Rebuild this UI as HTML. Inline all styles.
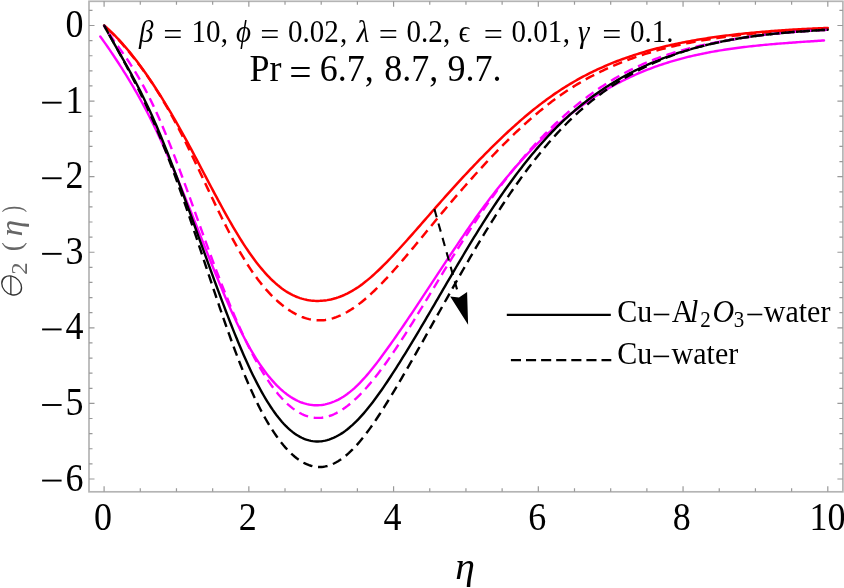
<!DOCTYPE html>
<html><head><meta charset="utf-8"><style>
html,body{margin:0;padding:0;background:#fff;}
body{width:844px;height:588px;overflow:hidden;position:relative;}
svg{position:absolute;left:0;top:0;will-change:transform;}
text{font-family:"Liberation Serif",serif;}
.tl{font-size:36px;fill:#000;}
</style></head><body>
<svg width="844" height="588" viewBox="0 0 844 588">
<rect x="89.0" y="1.3" width="753.90" height="490.50" fill="none" stroke="#b4b4b4" stroke-width="1.7"/>
<path d="M104.10,491.8 v-5.5 M104.10,1.3 v5.5 M140.28,491.8 v-3.5 M140.28,1.3 v3.5 M176.47,491.8 v-3.5 M176.47,1.3 v3.5 M212.66,491.8 v-3.5 M212.66,1.3 v3.5 M248.84,491.8 v-5.5 M248.84,1.3 v5.5 M285.02,491.8 v-3.5 M285.02,1.3 v3.5 M321.21,491.8 v-3.5 M321.21,1.3 v3.5 M357.39,491.8 v-3.5 M357.39,1.3 v3.5 M393.58,491.8 v-5.5 M393.58,1.3 v5.5 M429.76,491.8 v-3.5 M429.76,1.3 v3.5 M465.95,491.8 v-3.5 M465.95,1.3 v3.5 M502.13,491.8 v-3.5 M502.13,1.3 v3.5 M538.32,491.8 v-5.5 M538.32,1.3 v5.5 M574.50,491.8 v-3.5 M574.50,1.3 v3.5 M610.69,491.8 v-3.5 M610.69,1.3 v3.5 M646.88,491.8 v-3.5 M646.88,1.3 v3.5 M683.06,491.8 v-5.5 M683.06,1.3 v5.5 M719.25,491.8 v-3.5 M719.25,1.3 v3.5 M755.43,491.8 v-3.5 M755.43,1.3 v3.5 M791.62,491.8 v-3.5 M791.62,1.3 v3.5 M827.80,491.8 v-5.5 M827.80,1.3 v5.5 M89.0,478.98 h5.5 M842.9,478.98 h-5.5 M89.0,463.86 h3.5 M842.9,463.86 h-3.5 M89.0,448.75 h3.5 M842.9,448.75 h-3.5 M89.0,433.63 h3.5 M842.9,433.63 h-3.5 M89.0,418.52 h3.5 M842.9,418.52 h-3.5 M89.0,403.40 h5.5 M842.9,403.40 h-5.5 M89.0,388.28 h3.5 M842.9,388.28 h-3.5 M89.0,373.17 h3.5 M842.9,373.17 h-3.5 M89.0,358.05 h3.5 M842.9,358.05 h-3.5 M89.0,342.94 h3.5 M842.9,342.94 h-3.5 M89.0,327.82 h5.5 M842.9,327.82 h-5.5 M89.0,312.70 h3.5 M842.9,312.70 h-3.5 M89.0,297.59 h3.5 M842.9,297.59 h-3.5 M89.0,282.47 h3.5 M842.9,282.47 h-3.5 M89.0,267.36 h3.5 M842.9,267.36 h-3.5 M89.0,252.24 h5.5 M842.9,252.24 h-5.5 M89.0,237.12 h3.5 M842.9,237.12 h-3.5 M89.0,222.01 h3.5 M842.9,222.01 h-3.5 M89.0,206.89 h3.5 M842.9,206.89 h-3.5 M89.0,191.78 h3.5 M842.9,191.78 h-3.5 M89.0,176.66 h5.5 M842.9,176.66 h-5.5 M89.0,161.54 h3.5 M842.9,161.54 h-3.5 M89.0,146.43 h3.5 M842.9,146.43 h-3.5 M89.0,131.31 h3.5 M842.9,131.31 h-3.5 M89.0,116.20 h3.5 M842.9,116.20 h-3.5 M89.0,101.08 h5.5 M842.9,101.08 h-5.5 M89.0,85.96 h3.5 M842.9,85.96 h-3.5 M89.0,70.85 h3.5 M842.9,70.85 h-3.5 M89.0,55.73 h3.5 M842.9,55.73 h-3.5 M89.0,40.62 h3.5 M842.9,40.62 h-3.5 M89.0,25.50 h5.5 M842.9,25.50 h-5.5 M89.0,10.38 h3.5 M842.9,10.38 h-3.5" stroke="#999" stroke-width="1.2" fill="none"/>
<g class="tl">
<text transform="translate(83.6,37.10) scale(1,1.1)" text-anchor="end">0</text><text transform="translate(83.6,112.68) scale(1,1.1)" text-anchor="end">1</text><rect x="42.1" y="101.73" width="19.5" height="1.9"/><text transform="translate(83.6,188.26) scale(1,1.1)" text-anchor="end">2</text><rect x="42.1" y="177.31" width="19.5" height="1.9"/><text transform="translate(83.6,263.84) scale(1,1.1)" text-anchor="end">3</text><rect x="42.1" y="252.89" width="19.5" height="1.9"/><text transform="translate(83.6,339.42) scale(1,1.1)" text-anchor="end">4</text><rect x="42.1" y="328.47" width="19.5" height="1.9"/><text transform="translate(83.6,415.00) scale(1,1.1)" text-anchor="end">5</text><rect x="42.1" y="404.05" width="19.5" height="1.9"/><text transform="translate(83.6,490.58) scale(1,1.1)" text-anchor="end">6</text><rect x="42.1" y="479.63" width="19.5" height="1.9"/>
<text transform="translate(102.90,529.6) scale(1,1.1)" text-anchor="middle">0</text><text transform="translate(247.64,529.6) scale(1,1.1)" text-anchor="middle">2</text><text transform="translate(392.38,529.6) scale(1,1.1)" text-anchor="middle">4</text><text transform="translate(537.12,529.6) scale(1,1.1)" text-anchor="middle">6</text><text transform="translate(681.86,529.6) scale(1,1.1)" text-anchor="middle">8</text><text transform="translate(827.60,529.6) scale(1,1.1)" text-anchor="middle">10</text>
</g>
<path d="M104.10,25.46 L105.91,27.04 L107.73,28.67 L109.54,30.35 L111.36,32.07 L113.17,33.85 L114.98,35.66 L116.80,37.53 L118.61,39.44 L120.42,41.40 L122.24,43.40 L124.05,45.46 L125.87,47.56 L127.68,49.70 L129.49,51.89 L131.31,54.13 L133.12,56.41 L134.93,58.74 L136.75,61.11 L138.56,63.52 L140.38,65.98 L142.19,68.47 L144.00,71.01 L145.82,73.58 L147.63,76.20 L149.44,78.85 L151.26,81.54 L153.07,84.27 L154.89,87.03 L156.70,89.83 L158.51,92.66 L160.33,95.53 L162.14,98.43 L163.95,101.37 L165.77,104.34 L167.58,107.34 L169.40,110.38 L171.21,113.45 L173.02,116.54 L174.84,119.68 L176.65,122.84 L178.47,126.03 L180.28,129.25 L182.09,132.51 L183.91,135.79 L185.72,139.10 L187.53,142.44 L189.35,145.80 L191.16,149.18 L192.98,152.58 L194.79,156.00 L196.60,159.42 L198.42,162.86 L200.23,166.31 L202.04,169.76 L203.86,173.21 L205.67,176.66 L207.49,180.11 L209.30,183.55 L211.11,186.98 L212.93,190.41 L214.74,193.81 L216.55,197.20 L218.37,200.57 L220.18,203.92 L222.00,207.25 L223.81,210.55 L225.62,213.82 L227.44,217.05 L229.25,220.25 L231.06,223.42 L232.88,226.54 L234.69,229.63 L236.51,232.66 L238.32,235.65 L240.13,238.59 L241.95,241.48 L243.76,244.31 L245.58,247.09 L247.39,249.80 L249.20,252.45 L251.02,255.04 L252.83,257.56 L254.64,260.02 L256.46,262.40 L258.27,264.72 L260.09,266.98 L261.90,269.16 L263.71,271.27 L265.53,273.32 L267.34,275.29 L269.15,277.19 L270.97,279.02 L272.78,280.77 L274.60,282.45 L276.41,284.06 L278.22,285.59 L280.04,287.05 L281.85,288.43 L283.66,289.74 L285.48,290.96 L287.29,292.11 L289.11,293.18 L290.92,294.18 L292.73,295.10 L294.55,295.95 L296.36,296.73 L298.17,297.44 L299.99,298.08 L301.80,298.65 L303.62,299.15 L305.43,299.59 L307.24,299.96 L309.06,300.27 L310.87,300.51 L312.69,300.70 L314.50,300.82 L316.31,300.89 L318.13,300.90 L319.94,300.85 L321.75,300.75 L323.57,300.60 L325.38,300.39 L327.20,300.12 L329.01,299.80 L330.82,299.43 L332.64,299.00 L334.45,298.51 L336.26,297.98 L338.08,297.38 L339.89,296.73 L341.71,296.03 L343.52,295.27 L345.33,294.46 L347.15,293.59 L348.96,292.66 L350.77,291.68 L352.59,290.64 L354.40,289.55 L356.22,288.40 L358.03,287.20 L359.84,285.94 L361.66,284.63 L363.47,283.26 L365.28,281.85 L367.10,280.39 L368.91,278.88 L370.73,277.33 L372.54,275.74 L374.35,274.11 L376.17,272.45 L377.98,270.74 L379.80,269.01 L381.61,267.24 L383.42,265.44 L385.24,263.62 L387.05,261.77 L388.86,259.89 L390.68,258.00 L392.49,256.08 L394.31,254.15 L396.12,252.20 L397.93,250.24 L399.75,248.26 L401.56,246.27 L403.37,244.26 L405.19,242.25 L407.00,240.22 L408.82,238.19 L410.63,236.15 L412.44,234.10 L414.26,232.04 L416.07,229.98 L417.88,227.91 L419.70,225.84 L421.51,223.76 L423.33,221.68 L425.14,219.60 L426.95,217.53 L428.77,215.45 L430.58,213.37 L432.39,211.30 L434.21,209.23 L436.02,207.16 L437.84,205.10 L439.65,203.05 L441.46,201.00 L443.28,198.96 L445.09,196.92 L446.91,194.89 L448.72,192.87 L450.53,190.85 L452.35,188.84 L454.16,186.84 L455.97,184.85 L457.79,182.87 L459.60,180.89 L461.42,178.92 L463.23,176.96 L465.04,175.01 L466.86,173.07 L468.67,171.13 L470.48,169.21 L472.30,167.29 L474.11,165.39 L475.93,163.49 L477.74,161.61 L479.55,159.73 L481.37,157.87 L483.18,156.01 L484.99,154.17 L486.81,152.34 L488.62,150.52 L490.44,148.71 L492.25,146.91 L494.06,145.12 L495.88,143.35 L497.69,141.59 L499.51,139.84 L501.32,138.10 L503.13,136.38 L504.95,134.67 L506.76,132.97 L508.57,131.29 L510.39,129.62 L512.20,127.97 L514.02,126.33 L515.83,124.70 L517.64,123.09 L519.46,121.49 L521.27,119.92 L523.08,118.35 L524.90,116.80 L526.71,115.27 L528.53,113.75 L530.34,112.26 L532.15,110.77 L533.97,109.31 L535.78,107.86 L537.59,106.43 L539.41,105.02 L541.22,103.62 L543.04,102.25 L544.85,100.89 L546.66,99.55 L548.48,98.23 L550.29,96.93 L552.10,95.65 L553.92,94.38 L555.73,93.14 L557.55,91.92 L559.36,90.71 L561.17,89.53 L562.99,88.36 L564.80,87.21 L566.62,86.09 L568.43,84.97 L570.24,83.88 L572.06,82.81 L573.87,81.75 L575.68,80.71 L577.50,79.68 L579.31,78.68 L581.13,77.69 L582.94,76.71 L584.75,75.75 L586.57,74.81 L588.38,73.89 L590.19,72.98 L592.01,72.08 L593.82,71.20 L595.64,70.34 L597.45,69.49 L599.26,68.65 L601.08,67.83 L602.89,67.02 L604.70,66.23 L606.52,65.45 L608.33,64.68 L610.15,63.93 L611.96,63.19 L613.77,62.46 L615.59,61.74 L617.40,61.04 L619.21,60.35 L621.03,59.67 L622.84,59.01 L624.66,58.35 L626.47,57.71 L628.28,57.07 L630.10,56.45 L631.91,55.84 L633.73,55.24 L635.54,54.65 L637.35,54.07 L639.17,53.50 L640.98,52.94 L642.79,52.39 L644.61,51.85 L646.42,51.32 L648.24,50.79 L650.05,50.28 L651.86,49.78 L653.68,49.28 L655.49,48.80 L657.30,48.32 L659.12,47.85 L660.93,47.40 L662.75,46.95 L664.56,46.50 L666.37,46.07 L668.19,45.64 L670.00,45.23 L671.81,44.82 L673.63,44.41 L675.44,44.02 L677.26,43.63 L679.07,43.25 L680.88,42.88 L682.70,42.52 L684.51,42.16 L686.32,41.81 L688.14,41.46 L689.95,41.13 L691.77,40.80 L693.58,40.47 L695.39,40.15 L697.21,39.84 L699.02,39.53 L700.84,39.24 L702.65,38.94 L704.46,38.65 L706.28,38.37 L708.09,38.09 L709.90,37.82 L711.72,37.55 L713.53,37.29 L715.35,37.04 L717.16,36.79 L718.97,36.54 L720.79,36.30 L722.60,36.06 L724.41,35.83 L726.23,35.60 L728.04,35.37 L729.86,35.15 L731.67,34.94 L733.48,34.72 L735.30,34.51 L737.11,34.31 L738.92,34.11 L740.74,33.91 L742.55,33.72 L744.37,33.53 L746.18,33.34 L747.99,33.16 L749.81,32.98 L751.62,32.81 L753.43,32.64 L755.25,32.47 L757.06,32.30 L758.88,32.14 L760.69,31.98 L762.50,31.83 L764.32,31.67 L766.13,31.52 L767.95,31.38 L769.76,31.23 L771.57,31.09 L773.39,30.96 L775.20,30.82 L777.01,30.69 L778.83,30.56 L780.64,30.43 L782.46,30.31 L784.27,30.19 L786.08,30.07 L787.90,29.95 L789.71,29.84 L791.52,29.73 L793.34,29.62 L795.15,29.51 L796.97,29.41 L798.78,29.30 L800.59,29.20 L802.41,29.10 L804.22,29.01 L806.03,28.91 L807.85,28.82 L809.66,28.73 L811.48,28.64 L813.29,28.55 L815.10,28.46 L816.92,28.38 L818.73,28.30 L820.54,28.22 L822.36,28.14 L824.17,28.06 L825.99,27.98 L827.80,27.91" stroke="#f00" stroke-width="2.5" fill="none" stroke-linecap="round"/>
<path d="M104.10,25.45 L105.91,27.11 L107.73,28.81 L109.54,30.56 L111.36,32.35 L113.17,34.19 L114.98,36.07 L116.80,37.99 L118.61,39.95 L120.42,41.95 L122.24,43.99 L124.05,46.06 L125.87,48.17 L127.68,50.31 L129.49,52.48 L131.31,54.69 L133.12,56.94 L134.93,59.22 L136.75,61.54 L138.56,63.91 L140.38,66.32 L142.19,68.77 L144.00,71.26 L145.82,73.80 L147.63,76.39 L149.44,79.03 L151.26,81.71 L153.07,84.45 L154.89,87.24 L156.70,90.09 L158.51,92.98 L160.33,95.93 L162.14,98.94 L163.95,101.99 L165.77,105.10 L167.58,108.25 L169.40,111.46 L171.21,114.72 L173.02,118.02 L174.84,121.38 L176.65,124.78 L178.47,128.23 L180.28,131.73 L182.09,135.27 L183.91,138.86 L185.72,142.49 L187.53,146.17 L189.35,149.88 L191.16,153.63 L192.98,157.40 L194.79,161.20 L196.60,165.02 L198.42,168.85 L200.23,172.69 L202.04,176.55 L203.86,180.40 L205.67,184.25 L207.49,188.10 L209.30,191.94 L211.11,195.76 L212.93,199.57 L214.74,203.35 L216.55,207.11 L218.37,210.84 L220.18,214.54 L222.00,218.21 L223.81,221.83 L225.62,225.42 L227.44,228.97 L229.25,232.47 L231.06,235.92 L232.88,239.32 L234.69,242.67 L236.51,245.96 L238.32,249.19 L240.13,252.35 L241.95,255.45 L243.76,258.48 L245.58,261.44 L247.39,264.33 L249.20,267.14 L251.02,269.86 L252.83,272.51 L254.64,275.08 L256.46,277.57 L258.27,279.99 L260.09,282.33 L261.90,284.60 L263.71,286.79 L265.53,288.90 L267.34,290.95 L269.15,292.92 L270.97,294.82 L272.78,296.65 L274.60,298.41 L276.41,300.11 L278.22,301.73 L280.04,303.29 L281.85,304.78 L283.66,306.20 L285.48,307.56 L287.29,308.86 L289.11,310.09 L290.92,311.25 L292.73,312.35 L294.55,313.38 L296.36,314.34 L298.17,315.24 L299.99,316.06 L301.80,316.82 L303.62,317.50 L305.43,318.11 L307.24,318.65 L309.06,319.12 L310.87,319.52 L312.69,319.84 L314.50,320.08 L316.31,320.26 L318.13,320.35 L319.94,320.37 L321.75,320.31 L323.57,320.17 L325.38,319.96 L327.20,319.67 L329.01,319.31 L330.82,318.88 L332.64,318.37 L334.45,317.80 L336.26,317.16 L338.08,316.46 L339.89,315.69 L341.71,314.86 L343.52,313.96 L345.33,313.01 L347.15,311.99 L348.96,310.92 L350.77,309.80 L352.59,308.61 L354.40,307.38 L356.22,306.09 L358.03,304.76 L359.84,303.37 L361.66,301.94 L363.47,300.46 L365.28,298.94 L367.10,297.38 L368.91,295.77 L370.73,294.12 L372.54,292.44 L374.35,290.72 L376.17,288.96 L377.98,287.17 L379.80,285.35 L381.61,283.50 L383.42,281.61 L385.24,279.70 L387.05,277.77 L388.86,275.80 L390.68,273.82 L392.49,271.81 L394.31,269.78 L396.12,267.74 L397.93,265.67 L399.75,263.59 L401.56,261.49 L403.37,259.38 L405.19,257.25 L407.00,255.11 L408.82,252.96 L410.63,250.80 L412.44,248.63 L414.26,246.45 L416.07,244.27 L417.88,242.08 L419.70,239.88 L421.51,237.68 L423.33,235.48 L425.14,233.27 L426.95,231.07 L428.77,228.86 L430.58,226.66 L432.39,224.46 L434.21,222.26 L436.02,220.07 L437.84,217.88 L439.65,215.70 L441.46,213.53 L443.28,211.36 L445.09,209.20 L446.91,207.05 L448.72,204.91 L450.53,202.77 L452.35,200.64 L454.16,198.52 L455.97,196.41 L457.79,194.31 L459.60,192.21 L461.42,190.13 L463.23,188.05 L465.04,185.98 L466.86,183.92 L468.67,181.87 L470.48,179.83 L472.30,177.80 L474.11,175.78 L475.93,173.76 L477.74,171.76 L479.55,169.77 L481.37,167.79 L483.18,165.82 L484.99,163.87 L486.81,161.92 L488.62,159.98 L490.44,158.06 L492.25,156.15 L494.06,154.25 L495.88,152.36 L497.69,150.48 L499.51,148.62 L501.32,146.77 L503.13,144.93 L504.95,143.11 L506.76,141.30 L508.57,139.51 L510.39,137.73 L512.20,135.96 L514.02,134.21 L515.83,132.47 L517.64,130.75 L519.46,129.05 L521.27,127.36 L523.08,125.69 L524.90,124.03 L526.71,122.39 L528.53,120.77 L530.34,119.17 L532.15,117.58 L533.97,116.01 L535.78,114.46 L537.59,112.93 L539.41,111.41 L541.22,109.92 L543.04,108.44 L544.85,106.98 L546.66,105.55 L548.48,104.13 L550.29,102.73 L552.10,101.36 L553.92,100.00 L555.73,98.67 L557.55,97.35 L559.36,96.06 L561.17,94.78 L562.99,93.53 L564.80,92.29 L566.62,91.08 L568.43,89.88 L570.24,88.71 L572.06,87.55 L573.87,86.41 L575.68,85.29 L577.50,84.18 L579.31,83.10 L581.13,82.03 L582.94,80.98 L584.75,79.95 L586.57,78.93 L588.38,77.93 L590.19,76.95 L592.01,75.99 L593.82,75.04 L595.64,74.10 L597.45,73.18 L599.26,72.28 L601.08,71.40 L602.89,70.52 L604.70,69.67 L606.52,68.82 L608.33,68.00 L610.15,67.18 L611.96,66.38 L613.77,65.60 L615.59,64.83 L617.40,64.07 L619.21,63.32 L621.03,62.59 L622.84,61.87 L624.66,61.16 L626.47,60.47 L628.28,59.79 L630.10,59.12 L631.91,58.46 L633.73,57.81 L635.54,57.17 L637.35,56.55 L639.17,55.93 L640.98,55.33 L642.79,54.74 L644.61,54.16 L646.42,53.59 L648.24,53.03 L650.05,52.48 L651.86,51.94 L653.68,51.41 L655.49,50.88 L657.30,50.37 L659.12,49.87 L660.93,49.38 L662.75,48.90 L664.56,48.42 L666.37,47.96 L668.19,47.50 L670.00,47.06 L671.81,46.62 L673.63,46.19 L675.44,45.77 L677.26,45.35 L679.07,44.95 L680.88,44.55 L682.70,44.16 L684.51,43.78 L686.32,43.40 L688.14,43.04 L689.95,42.68 L691.77,42.32 L693.58,41.98 L695.39,41.64 L697.21,41.30 L699.02,40.98 L700.84,40.66 L702.65,40.34 L704.46,40.04 L706.28,39.74 L708.09,39.44 L709.90,39.15 L711.72,38.87 L713.53,38.59 L715.35,38.31 L717.16,38.04 L718.97,37.78 L720.79,37.52 L722.60,37.27 L724.41,37.02 L726.23,36.77 L728.04,36.53 L729.86,36.30 L731.67,36.06 L733.48,35.84 L735.30,35.61 L737.11,35.39 L738.92,35.18 L740.74,34.96 L742.55,34.76 L744.37,34.55 L746.18,34.35 L747.99,34.16 L749.81,33.96 L751.62,33.77 L753.43,33.59 L755.25,33.40 L757.06,33.23 L758.88,33.05 L760.69,32.88 L762.50,32.71 L764.32,32.54 L766.13,32.38 L767.95,32.22 L769.76,32.07 L771.57,31.91 L773.39,31.76 L775.20,31.61 L777.01,31.47 L778.83,31.33 L780.64,31.19 L782.46,31.05 L784.27,30.92 L786.08,30.79 L787.90,30.66 L789.71,30.53 L791.52,30.41 L793.34,30.29 L795.15,30.17 L796.97,30.05 L798.78,29.94 L800.59,29.83 L802.41,29.72 L804.22,29.61 L806.03,29.50 L807.85,29.40 L809.66,29.30 L811.48,29.20 L813.29,29.10 L815.10,29.00 L816.92,28.91 L818.73,28.81 L820.54,28.72 L822.36,28.63 L824.17,28.54 L825.99,28.45 L827.80,28.37" stroke="#f00" stroke-width="2.5" fill="none" stroke-dasharray="9.6 5.7" stroke-dashoffset="10.40"/>
<path d="M100.30,36.45 L102.11,39.00 L103.93,41.57 L105.74,44.16 L107.56,46.77 L109.37,49.41 L111.18,52.08 L113.00,54.77 L114.81,57.50 L116.62,60.25 L118.44,63.03 L120.25,65.83 L122.07,68.67 L123.88,71.55 L125.69,74.45 L127.51,77.39 L129.32,80.37 L131.13,83.39 L132.95,86.45 L134.76,89.56 L136.58,92.71 L138.39,95.91 L140.20,99.16 L142.02,102.47 L143.83,105.83 L145.64,109.25 L147.46,112.72 L149.27,116.26 L151.09,119.87 L152.90,123.53 L154.71,127.27 L156.53,131.06 L158.34,134.91 L160.15,138.82 L161.97,142.79 L163.78,146.81 L165.60,150.88 L167.41,155.00 L169.22,159.16 L171.04,163.37 L172.85,167.63 L174.67,171.92 L176.48,176.25 L178.29,180.62 L180.11,185.02 L181.92,189.46 L183.73,193.92 L185.55,198.41 L187.36,202.92 L189.18,207.45 L190.99,212.00 L192.80,216.56 L194.62,221.13 L196.43,225.71 L198.24,230.30 L200.06,234.88 L201.87,239.47 L203.69,244.05 L205.50,248.62 L207.31,253.18 L209.13,257.73 L210.94,262.26 L212.75,266.78 L214.57,271.26 L216.38,275.72 L218.20,280.15 L220.01,284.54 L221.82,288.88 L223.64,293.19 L225.45,297.45 L227.26,301.65 L229.08,305.80 L230.89,309.89 L232.71,313.91 L234.52,317.87 L236.33,321.76 L238.15,325.57 L239.96,329.30 L241.78,332.95 L243.59,336.51 L245.40,339.98 L247.22,343.35 L249.03,346.63 L250.84,349.82 L252.66,352.91 L254.47,355.92 L256.29,358.83 L258.10,361.64 L259.91,364.37 L261.73,367.00 L263.54,369.54 L265.35,371.99 L267.17,374.36 L268.98,376.63 L270.80,378.81 L272.61,380.90 L274.42,382.90 L276.24,384.82 L278.05,386.64 L279.86,388.38 L281.68,390.03 L283.49,391.59 L285.31,393.07 L287.12,394.45 L288.93,395.76 L290.75,396.97 L292.56,398.11 L294.37,399.15 L296.19,400.11 L298.00,400.99 L299.82,401.79 L301.63,402.50 L303.44,403.13 L305.26,403.67 L307.07,404.14 L308.89,404.52 L310.70,404.82 L312.51,405.04 L314.33,405.19 L316.14,405.25 L317.95,405.23 L319.77,405.13 L321.58,404.95 L323.40,404.70 L325.21,404.36 L327.02,403.95 L328.84,403.46 L330.65,402.89 L332.46,402.23 L334.28,401.51 L336.09,400.70 L337.91,399.81 L339.72,398.84 L341.53,397.80 L343.35,396.67 L345.16,395.47 L346.97,394.19 L348.79,392.83 L350.60,391.39 L352.42,389.87 L354.23,388.28 L356.04,386.60 L357.86,384.85 L359.67,383.03 L361.48,381.15 L363.30,379.19 L365.11,377.18 L366.93,375.10 L368.74,372.98 L370.55,370.79 L372.37,368.56 L374.18,366.29 L376.00,363.97 L377.81,361.61 L379.62,359.21 L381.44,356.78 L383.25,354.32 L385.06,351.83 L386.88,349.31 L388.69,346.78 L390.51,344.23 L392.32,341.66 L394.13,339.08 L395.95,336.48 L397.76,333.87 L399.57,331.24 L401.39,328.61 L403.20,325.96 L405.02,323.30 L406.83,320.63 L408.64,317.94 L410.46,315.25 L412.27,312.55 L414.08,309.84 L415.90,307.13 L417.71,304.41 L419.53,301.68 L421.34,298.94 L423.15,296.20 L424.97,293.46 L426.78,290.71 L428.59,287.96 L430.41,285.20 L432.22,282.45 L434.04,279.69 L435.85,276.93 L437.66,274.18 L439.48,271.42 L441.29,268.67 L443.11,265.91 L444.92,263.17 L446.73,260.42 L448.55,257.68 L450.36,254.95 L452.17,252.23 L453.99,249.51 L455.80,246.80 L457.62,244.10 L459.43,241.41 L461.24,238.74 L463.06,236.07 L464.87,233.42 L466.68,230.78 L468.50,228.15 L470.31,225.54 L472.13,222.95 L473.94,220.37 L475.75,217.81 L477.57,215.27 L479.38,212.75 L481.19,210.25 L483.01,207.77 L484.82,205.32 L486.64,202.88 L488.45,200.47 L490.26,198.08 L492.08,195.71 L493.89,193.37 L495.71,191.04 L497.52,188.74 L499.33,186.46 L501.15,184.20 L502.96,181.97 L504.77,179.76 L506.59,177.56 L508.40,175.40 L510.22,173.25 L512.03,171.12 L513.84,169.02 L515.66,166.94 L517.47,164.88 L519.28,162.84 L521.10,160.83 L522.91,158.83 L524.73,156.86 L526.54,154.91 L528.35,152.98 L530.17,151.07 L531.98,149.19 L533.79,147.33 L535.61,145.48 L537.42,143.66 L539.24,141.86 L541.05,140.09 L542.86,138.33 L544.68,136.60 L546.49,134.88 L548.30,133.19 L550.12,131.52 L551.93,129.87 L553.75,128.24 L555.56,126.64 L557.37,125.05 L559.19,123.48 L561.00,121.94 L562.82,120.42 L564.63,118.91 L566.44,117.43 L568.26,115.96 L570.07,114.52 L571.88,113.10 L573.70,111.69 L575.51,110.31 L577.33,108.94 L579.14,107.60 L580.95,106.27 L582.77,104.96 L584.58,103.67 L586.39,102.40 L588.21,101.15 L590.02,99.92 L591.84,98.71 L593.65,97.51 L595.46,96.33 L597.28,95.17 L599.09,94.03 L600.90,92.91 L602.72,91.80 L604.53,90.71 L606.35,89.64 L608.16,88.58 L609.97,87.55 L611.79,86.52 L613.60,85.52 L615.41,84.53 L617.23,83.56 L619.04,82.61 L620.86,81.67 L622.67,80.75 L624.48,79.84 L626.30,78.95 L628.11,78.08 L629.93,77.22 L631.74,76.38 L633.55,75.55 L635.37,74.74 L637.18,73.94 L638.99,73.15 L640.81,72.39 L642.62,71.63 L644.44,70.89 L646.25,70.17 L648.06,69.45 L649.88,68.76 L651.69,68.07 L653.50,67.40 L655.32,66.74 L657.13,66.10 L658.95,65.47 L660.76,64.85 L662.57,64.24 L664.39,63.64 L666.20,63.06 L668.01,62.49 L669.83,61.93 L671.64,61.39 L673.46,60.85 L675.27,60.33 L677.08,59.81 L678.90,59.31 L680.71,58.82 L682.52,58.34 L684.34,57.87 L686.15,57.41 L687.97,56.96 L689.78,56.52 L691.59,56.09 L693.41,55.67 L695.22,55.25 L697.04,54.85 L698.85,54.46 L700.66,54.07 L702.48,53.70 L704.29,53.33 L706.10,52.97 L707.92,52.62 L709.73,52.28 L711.55,51.94 L713.36,51.62 L715.17,51.30 L716.99,50.98 L718.80,50.68 L720.61,50.38 L722.43,50.09 L724.24,49.80 L726.06,49.52 L727.87,49.25 L729.68,48.98 L731.50,48.72 L733.31,48.47 L735.12,48.22 L736.94,47.98 L738.75,47.74 L740.57,47.51 L742.38,47.28 L744.19,47.06 L746.01,46.85 L747.82,46.63 L749.63,46.43 L751.45,46.23 L753.26,46.03 L755.08,45.84 L756.89,45.65 L758.70,45.46 L760.52,45.28 L762.33,45.10 L764.15,44.93 L765.96,44.76 L767.77,44.60 L769.59,44.43 L771.40,44.27 L773.21,44.12 L775.03,43.96 L776.84,43.81 L778.66,43.66 L780.47,43.52 L782.28,43.37 L784.10,43.23 L785.91,43.09 L787.72,42.96 L789.54,42.82 L791.35,42.69 L793.17,42.56 L794.98,42.43 L796.79,42.30 L798.61,42.17 L800.42,42.05 L802.23,41.92 L804.05,41.80 L805.86,41.67 L807.68,41.55 L809.49,41.43 L811.30,41.30 L813.12,41.18 L814.93,41.06 L816.74,40.94 L818.56,40.82 L820.37,40.69 L822.19,40.57 L824.00,40.45" stroke="#f0f" stroke-width="2.4" fill="none" stroke-linecap="round"/>
<path d="M104.10,25.45 L105.91,28.83 L107.73,32.15 L109.54,35.43 L111.36,38.68 L113.17,41.89 L114.98,45.09 L116.80,48.27 L118.61,51.44 L120.42,54.62 L122.24,57.80 L124.05,61.00 L125.87,64.22 L127.68,67.47 L129.49,70.76 L131.31,74.09 L133.12,77.45 L134.93,80.86 L136.75,84.31 L138.56,87.82 L140.38,91.38 L142.19,95.00 L144.00,98.67 L145.82,102.41 L147.63,106.22 L149.44,110.09 L151.26,114.04 L153.07,118.06 L154.89,122.17 L156.70,126.35 L158.51,130.61 L160.33,134.95 L162.14,139.36 L163.95,143.83 L165.77,148.37 L167.58,152.96 L169.40,157.61 L171.21,162.31 L173.02,167.06 L174.84,171.84 L176.65,176.67 L178.47,181.53 L180.28,186.42 L182.09,191.34 L183.91,196.28 L185.72,201.24 L187.53,206.22 L189.35,211.21 L191.16,216.21 L192.98,221.22 L194.79,226.24 L196.60,231.27 L198.42,236.30 L200.23,241.33 L202.04,246.35 L203.86,251.38 L205.67,256.40 L207.49,261.40 L209.30,266.40 L211.11,271.39 L212.93,276.36 L214.74,281.31 L216.55,286.24 L218.37,291.15 L220.18,296.03 L222.00,300.87 L223.81,305.68 L225.62,310.46 L227.44,315.18 L229.25,319.87 L231.06,324.50 L232.88,329.08 L234.69,333.60 L236.51,338.06 L238.32,342.46 L240.13,346.79 L241.95,351.05 L243.76,355.23 L245.58,359.34 L247.39,363.36 L249.20,367.30 L251.02,371.14 L252.83,374.90 L254.64,378.57 L256.46,382.14 L258.27,385.62 L260.09,389.01 L261.90,392.30 L263.71,395.49 L265.53,398.58 L267.34,401.56 L269.15,404.45 L270.97,407.24 L272.78,409.92 L274.60,412.49 L276.41,414.96 L278.22,417.31 L280.04,419.56 L281.85,421.70 L283.66,423.72 L285.48,425.63 L287.29,427.42 L289.11,429.10 L290.92,430.67 L292.73,432.13 L294.55,433.48 L296.36,434.71 L298.17,435.84 L299.99,436.87 L301.80,437.78 L303.62,438.60 L305.43,439.30 L307.24,439.91 L309.06,440.41 L310.87,440.82 L312.69,441.12 L314.50,441.33 L316.31,441.44 L318.13,441.45 L319.94,441.37 L321.75,441.20 L323.57,440.93 L325.38,440.57 L327.20,440.12 L329.01,439.58 L330.82,438.95 L332.64,438.23 L334.45,437.43 L336.26,436.54 L338.08,435.57 L339.89,434.51 L341.71,433.37 L343.52,432.15 L345.33,430.85 L347.15,429.46 L348.96,428.00 L350.77,426.46 L352.59,424.85 L354.40,423.15 L356.22,421.39 L358.03,419.55 L359.84,417.63 L361.66,415.65 L363.47,413.60 L365.28,411.49 L367.10,409.31 L368.91,407.07 L370.73,404.78 L372.54,402.43 L374.35,400.03 L376.17,397.57 L377.98,395.08 L379.80,392.53 L381.61,389.95 L383.42,387.32 L385.24,384.66 L387.05,381.96 L388.86,379.23 L390.68,376.47 L392.49,373.68 L394.31,370.87 L396.12,368.03 L397.93,365.17 L399.75,362.29 L401.56,359.40 L403.37,356.48 L405.19,353.54 L407.00,350.59 L408.82,347.61 L410.63,344.63 L412.44,341.63 L414.26,338.61 L416.07,335.58 L417.88,332.54 L419.70,329.49 L421.51,326.43 L423.33,323.36 L425.14,320.28 L426.95,317.19 L428.77,314.09 L430.58,310.99 L432.39,307.89 L434.21,304.78 L436.02,301.67 L437.84,298.55 L439.65,295.44 L441.46,292.32 L443.28,289.21 L445.09,286.09 L446.91,282.98 L448.72,279.87 L450.53,276.77 L452.35,273.67 L454.16,270.58 L455.97,267.49 L457.79,264.42 L459.60,261.35 L461.42,258.29 L463.23,255.24 L465.04,252.20 L466.86,249.18 L468.67,246.17 L470.48,243.17 L472.30,240.19 L474.11,237.22 L475.93,234.27 L477.74,231.34 L479.55,228.43 L481.37,225.54 L483.18,222.67 L484.99,219.82 L486.81,216.99 L488.62,214.18 L490.44,211.40 L492.25,208.65 L494.06,205.92 L495.88,203.21 L497.69,200.52 L499.51,197.86 L501.32,195.23 L503.13,192.62 L504.95,190.03 L506.76,187.47 L508.57,184.94 L510.39,182.43 L512.20,179.94 L514.02,177.49 L515.83,175.05 L517.64,172.64 L519.46,170.26 L521.27,167.91 L523.08,165.58 L524.90,163.27 L526.71,160.99 L528.53,158.74 L530.34,156.52 L532.15,154.32 L533.97,152.15 L535.78,150.00 L537.59,147.89 L539.41,145.80 L541.22,143.73 L543.04,141.70 L544.85,139.69 L546.66,137.71 L548.48,135.76 L550.29,133.83 L552.10,131.94 L553.92,130.07 L555.73,128.23 L557.55,126.42 L559.36,124.63 L561.17,122.87 L562.99,121.14 L564.80,119.43 L566.62,117.76 L568.43,116.10 L570.24,114.48 L572.06,112.87 L573.87,111.30 L575.68,109.74 L577.50,108.22 L579.31,106.71 L581.13,105.23 L582.94,103.77 L584.75,102.34 L586.57,100.93 L588.38,99.54 L590.19,98.17 L592.01,96.83 L593.82,95.51 L595.64,94.21 L597.45,92.93 L599.26,91.67 L601.08,90.43 L602.89,89.21 L604.70,88.01 L606.52,86.83 L608.33,85.67 L610.15,84.53 L611.96,83.41 L613.77,82.30 L615.59,81.22 L617.40,80.15 L619.21,79.10 L621.03,78.06 L622.84,77.05 L624.66,76.05 L626.47,75.06 L628.28,74.09 L630.10,73.14 L631.91,72.20 L633.73,71.28 L635.54,70.37 L637.35,69.48 L639.17,68.60 L640.98,67.74 L642.79,66.89 L644.61,66.05 L646.42,65.23 L648.24,64.42 L650.05,63.63 L651.86,62.85 L653.68,62.08 L655.49,61.33 L657.30,60.59 L659.12,59.86 L660.93,59.14 L662.75,58.44 L664.56,57.75 L666.37,57.07 L668.19,56.41 L670.00,55.75 L671.81,55.11 L673.63,54.48 L675.44,53.86 L677.26,53.26 L679.07,52.66 L680.88,52.08 L682.70,51.51 L684.51,50.94 L686.32,50.39 L688.14,49.85 L689.95,49.32 L691.77,48.80 L693.58,48.29 L695.39,47.79 L697.21,47.30 L699.02,46.82 L700.84,46.35 L702.65,45.89 L704.46,45.44 L706.28,45.00 L708.09,44.56 L709.90,44.14 L711.72,43.72 L713.53,43.31 L715.35,42.91 L717.16,42.52 L718.97,42.14 L720.79,41.77 L722.60,41.40 L724.41,41.04 L726.23,40.69 L728.04,40.35 L729.86,40.01 L731.67,39.68 L733.48,39.36 L735.30,39.04 L737.11,38.73 L738.92,38.43 L740.74,38.14 L742.55,37.85 L744.37,37.57 L746.18,37.29 L747.99,37.02 L749.81,36.76 L751.62,36.50 L753.43,36.25 L755.25,36.00 L757.06,35.76 L758.88,35.53 L760.69,35.30 L762.50,35.08 L764.32,34.86 L766.13,34.65 L767.95,34.44 L769.76,34.24 L771.57,34.04 L773.39,33.85 L775.20,33.66 L777.01,33.47 L778.83,33.29 L780.64,33.12 L782.46,32.95 L784.27,32.78 L786.08,32.62 L787.90,32.46 L789.71,32.30 L791.52,32.15 L793.34,32.00 L795.15,31.86 L796.97,31.72 L798.78,31.58 L800.59,31.45 L802.41,31.31 L804.22,31.19 L806.03,31.06 L807.85,30.94 L809.66,30.82 L811.48,30.70 L813.29,30.58 L815.10,30.47 L816.92,30.36 L818.73,30.25 L820.54,30.14 L822.36,30.04 L824.17,29.94 L825.99,29.83 L827.80,29.73" stroke="#000" stroke-width="2.4" fill="none" stroke-linecap="round"/>
<path d="M104.10,25.47 L105.91,28.54 L107.73,31.48 L109.54,34.29 L111.36,37.01 L113.17,39.65 L114.98,42.22 L116.80,44.75 L118.61,47.26 L120.42,49.76 L122.24,52.26 L124.05,54.80 L125.87,57.39 L127.68,60.03 L129.49,62.75 L131.31,65.54 L133.12,68.39 L134.93,71.32 L136.75,74.33 L138.56,77.41 L140.38,80.58 L142.19,83.83 L144.00,87.15 L145.82,90.57 L147.63,94.07 L149.44,97.67 L151.26,101.35 L153.07,105.13 L154.89,109.01 L156.70,112.98 L158.51,117.05 L160.33,121.20 L162.14,125.44 L163.95,129.76 L165.77,134.16 L167.58,138.63 L169.40,143.17 L171.21,147.77 L173.02,152.43 L174.84,157.15 L176.65,161.91 L178.47,166.73 L180.28,171.59 L182.09,176.48 L183.91,181.42 L185.72,186.38 L187.53,191.36 L189.35,196.37 L191.16,201.40 L192.98,206.44 L194.79,211.48 L196.60,216.53 L198.42,221.58 L200.23,226.62 L202.04,231.66 L203.86,236.68 L205.67,241.68 L207.49,246.65 L209.30,251.60 L211.11,256.52 L212.93,261.40 L214.74,266.25 L216.55,271.05 L218.37,275.80 L220.18,280.51 L222.00,285.17 L223.81,289.77 L225.62,294.33 L227.44,298.82 L229.25,303.26 L231.06,307.64 L232.88,311.96 L234.69,316.21 L236.51,320.40 L238.32,324.51 L240.13,328.56 L241.95,332.53 L243.76,336.43 L245.58,340.24 L247.39,343.98 L249.20,347.64 L251.02,351.21 L252.83,354.70 L254.64,358.10 L256.46,361.41 L258.27,364.64 L260.09,367.78 L261.90,370.83 L263.71,373.79 L265.53,376.66 L267.34,379.44 L269.15,382.13 L270.97,384.72 L272.78,387.22 L274.60,389.63 L276.41,391.94 L278.22,394.16 L280.04,396.28 L281.85,398.30 L283.66,400.22 L285.48,402.05 L287.29,403.77 L289.11,405.40 L290.92,406.92 L292.73,408.35 L294.55,409.68 L296.36,410.91 L298.17,412.03 L299.99,413.06 L301.80,414.00 L303.62,414.83 L305.43,415.56 L307.24,416.19 L309.06,416.73 L310.87,417.17 L312.69,417.50 L314.50,417.74 L316.31,417.88 L318.13,417.92 L319.94,417.87 L321.75,417.71 L323.57,417.46 L325.38,417.11 L327.20,416.66 L329.01,416.13 L330.82,415.50 L332.64,414.79 L334.45,413.99 L336.26,413.10 L338.08,412.14 L339.89,411.09 L341.71,409.96 L343.52,408.76 L345.33,407.48 L347.15,406.13 L348.96,404.70 L350.77,403.21 L352.59,401.65 L354.40,400.03 L356.22,398.34 L358.03,396.59 L359.84,394.78 L361.66,392.91 L363.47,390.99 L365.28,389.01 L367.10,386.97 L368.91,384.88 L370.73,382.75 L372.54,380.56 L374.35,378.32 L376.17,376.04 L377.98,373.71 L379.80,371.34 L381.61,368.92 L383.42,366.46 L385.24,363.97 L387.05,361.43 L388.86,358.86 L390.68,356.26 L392.49,353.62 L394.31,350.94 L396.12,348.24 L397.93,345.50 L399.75,342.74 L401.56,339.96 L403.37,337.14 L405.19,334.31 L407.00,331.45 L408.82,328.57 L410.63,325.68 L412.44,322.76 L414.26,319.83 L416.07,316.89 L417.88,313.94 L419.70,310.97 L421.51,308.00 L423.33,305.02 L425.14,302.03 L426.95,299.03 L428.77,296.04 L430.58,293.04 L432.39,290.04 L434.21,287.05 L436.02,284.06 L437.84,281.07 L439.65,278.09 L441.46,275.11 L443.28,272.15 L445.09,269.19 L446.91,266.24 L448.72,263.29 L450.53,260.36 L452.35,257.44 L454.16,254.53 L455.97,251.63 L457.79,248.75 L459.60,245.88 L461.42,243.02 L463.23,240.17 L465.04,237.35 L466.86,234.53 L468.67,231.74 L470.48,228.96 L472.30,226.20 L474.11,223.45 L475.93,220.73 L477.74,218.03 L479.55,215.34 L481.37,212.68 L483.18,210.04 L484.99,207.42 L486.81,204.83 L488.62,202.26 L490.44,199.71 L492.25,197.19 L494.06,194.69 L495.88,192.22 L497.69,189.76 L499.51,187.34 L501.32,184.93 L503.13,182.55 L504.95,180.20 L506.76,177.86 L508.57,175.55 L510.39,173.27 L512.20,171.00 L514.02,168.76 L515.83,166.55 L517.64,164.35 L519.46,162.18 L521.27,160.04 L523.08,157.91 L524.90,155.81 L526.71,153.73 L528.53,151.67 L530.34,149.64 L532.15,147.63 L533.97,145.64 L535.78,143.67 L537.59,141.73 L539.41,139.80 L541.22,137.90 L543.04,136.03 L544.85,134.17 L546.66,132.34 L548.48,130.52 L550.29,128.73 L552.10,126.96 L553.92,125.22 L555.73,123.49 L557.55,121.79 L559.36,120.11 L561.17,118.45 L562.99,116.81 L564.80,115.19 L566.62,113.59 L568.43,112.01 L570.24,110.46 L572.06,108.92 L573.87,107.41 L575.68,105.92 L577.50,104.44 L579.31,102.99 L581.13,101.56 L582.94,100.14 L584.75,98.75 L586.57,97.38 L588.38,96.03 L590.19,94.69 L592.01,93.38 L593.82,92.09 L595.64,90.81 L597.45,89.56 L599.26,88.32 L601.08,87.10 L602.89,85.91 L604.70,84.73 L606.52,83.57 L608.33,82.43 L610.15,81.30 L611.96,80.20 L613.77,79.12 L615.59,78.05 L617.40,77.00 L619.21,75.97 L621.03,74.96 L622.84,73.96 L624.66,72.99 L626.47,72.03 L628.28,71.09 L630.10,70.16 L631.91,69.26 L633.73,68.37 L635.54,67.50 L637.35,66.64 L639.17,65.80 L640.98,64.98 L642.79,64.18 L644.61,63.39 L646.42,62.61 L648.24,61.86 L650.05,61.11 L651.86,60.39 L653.68,59.67 L655.49,58.97 L657.30,58.29 L659.12,57.62 L660.93,56.96 L662.75,56.32 L664.56,55.69 L666.37,55.08 L668.19,54.47 L670.00,53.88 L671.81,53.30 L673.63,52.74 L675.44,52.18 L677.26,51.64 L679.07,51.11 L680.88,50.59 L682.70,50.08 L684.51,49.58 L686.32,49.09 L688.14,48.61 L689.95,48.14 L691.77,47.69 L693.58,47.24 L695.39,46.80 L697.21,46.37 L699.02,45.94 L700.84,45.53 L702.65,45.13 L704.46,44.73 L706.28,44.34 L708.09,43.96 L709.90,43.58 L711.72,43.22 L713.53,42.86 L715.35,42.50 L717.16,42.15 L718.97,41.81 L720.79,41.48 L722.60,41.15 L724.41,40.82 L726.23,40.50 L728.04,40.19 L729.86,39.88 L731.67,39.57 L733.48,39.27 L735.30,38.98 L737.11,38.69 L738.92,38.40 L740.74,38.12 L742.55,37.84 L744.37,37.57 L746.18,37.30 L747.99,37.04 L749.81,36.78 L751.62,36.53 L753.43,36.28 L755.25,36.04 L757.06,35.80 L758.88,35.56 L760.69,35.33 L762.50,35.11 L764.32,34.89 L766.13,34.67 L767.95,34.46 L769.76,34.25 L771.57,34.05 L773.39,33.85 L775.20,33.65 L777.01,33.46 L778.83,33.28 L780.64,33.10 L782.46,32.92 L784.27,32.75 L786.08,32.58 L787.90,32.41 L789.71,32.25 L791.52,32.10 L793.34,31.95 L795.15,31.80 L796.97,31.66 L798.78,31.52 L800.59,31.38 L802.41,31.25 L804.22,31.13 L806.03,31.00 L807.85,30.89 L809.66,30.77 L811.48,30.66 L813.29,30.55 L815.10,30.45 L816.92,30.35 L818.73,30.26 L820.54,30.17 L822.36,30.08 L824.17,30.00 L825.99,29.92 L827.80,29.85" stroke="#f0f" stroke-width="2.4" fill="none" stroke-dasharray="9.6 5.7" stroke-dashoffset="5.89"/>
<path d="M104.10,25.45 L105.91,28.68 L107.73,31.91 L109.54,35.16 L111.36,38.41 L113.17,41.68 L114.98,44.96 L116.80,48.25 L118.61,51.57 L120.42,54.90 L122.24,58.24 L124.05,61.61 L125.87,65.00 L127.68,68.42 L129.49,71.86 L131.31,75.33 L133.12,78.83 L134.93,82.37 L136.75,85.95 L138.56,89.58 L140.38,93.25 L142.19,96.97 L144.00,100.75 L145.82,104.59 L147.63,108.48 L149.44,112.44 L151.26,116.47 L153.07,120.57 L154.89,124.75 L156.70,129.00 L158.51,133.33 L160.33,137.74 L162.14,142.21 L163.95,146.76 L165.77,151.37 L167.58,156.05 L169.40,160.80 L171.21,165.60 L173.02,170.47 L174.84,175.40 L176.65,180.38 L178.47,185.42 L180.28,190.51 L182.09,195.65 L183.91,200.84 L185.72,206.08 L187.53,211.36 L189.35,216.68 L191.16,222.03 L192.98,227.41 L194.79,232.81 L196.60,238.24 L198.42,243.69 L200.23,249.14 L202.04,254.61 L203.86,260.08 L205.67,265.55 L207.49,271.01 L209.30,276.47 L211.11,281.91 L212.93,287.33 L214.74,292.74 L216.55,298.12 L218.37,303.47 L220.18,308.78 L222.00,314.06 L223.81,319.29 L225.62,324.48 L227.44,329.62 L229.25,334.70 L231.06,339.72 L232.88,344.68 L234.69,349.57 L236.51,354.38 L238.32,359.12 L240.13,363.78 L241.95,368.36 L243.76,372.85 L245.58,377.24 L247.39,381.54 L249.20,385.73 L251.02,389.82 L252.83,393.80 L254.64,397.68 L256.46,401.46 L258.27,405.13 L260.09,408.69 L261.90,412.15 L263.71,415.50 L265.53,418.75 L267.34,421.90 L269.15,424.94 L270.97,427.87 L272.78,430.70 L274.60,433.43 L276.41,436.05 L278.22,438.57 L280.04,440.98 L281.85,443.29 L283.66,445.49 L285.48,447.59 L287.29,449.58 L289.11,451.47 L290.92,453.26 L292.73,454.93 L294.55,456.50 L296.36,457.97 L298.17,459.32 L299.99,460.57 L301.80,461.71 L303.62,462.74 L305.43,463.66 L307.24,464.47 L309.06,465.17 L310.87,465.76 L312.69,466.24 L314.50,466.61 L316.31,466.86 L318.13,467.00 L319.94,467.02 L321.75,466.94 L323.57,466.73 L325.38,466.42 L327.20,466.00 L329.01,465.46 L330.82,464.82 L332.64,464.08 L334.45,463.23 L336.26,462.28 L338.08,461.23 L339.89,460.08 L341.71,458.83 L343.52,457.50 L345.33,456.06 L347.15,454.54 L348.96,452.93 L350.77,451.23 L352.59,449.44 L354.40,447.57 L356.22,445.62 L358.03,443.59 L359.84,441.48 L361.66,439.29 L363.47,437.03 L365.28,434.71 L367.10,432.31 L368.91,429.86 L370.73,427.34 L372.54,424.77 L374.35,422.14 L376.17,419.46 L377.98,416.74 L379.80,413.97 L381.61,411.16 L383.42,408.31 L385.24,405.42 L387.05,402.50 L388.86,399.55 L390.68,396.58 L392.49,393.58 L394.31,390.56 L396.12,387.53 L397.93,384.47 L399.75,381.40 L401.56,378.32 L403.37,375.21 L405.19,372.10 L407.00,368.97 L408.82,365.83 L410.63,362.67 L412.44,359.51 L414.26,356.33 L416.07,353.15 L417.88,349.95 L419.70,346.75 L421.51,343.54 L423.33,340.33 L425.14,337.11 L426.95,333.88 L428.77,330.65 L430.58,327.41 L432.39,324.18 L434.21,320.94 L436.02,317.70 L437.84,314.46 L439.65,311.22 L441.46,307.98 L443.28,304.75 L445.09,301.52 L446.91,298.29 L448.72,295.06 L450.53,291.84 L452.35,288.63 L454.16,285.42 L455.97,282.22 L457.79,279.03 L459.60,275.84 L461.42,272.67 L463.23,269.51 L465.04,266.35 L466.86,263.21 L468.67,260.08 L470.48,256.97 L472.30,253.87 L474.11,250.78 L475.93,247.71 L477.74,244.66 L479.55,241.62 L481.37,238.60 L483.18,235.60 L484.99,232.62 L486.81,229.66 L488.62,226.72 L490.44,223.80 L492.25,220.90 L494.06,218.02 L495.88,215.17 L497.69,212.34 L499.51,209.53 L501.32,206.74 L503.13,203.98 L504.95,201.24 L506.76,198.52 L508.57,195.83 L510.39,193.16 L512.20,190.51 L514.02,187.89 L515.83,185.30 L517.64,182.73 L519.46,180.18 L521.27,177.66 L523.08,175.16 L524.90,172.69 L526.71,170.25 L528.53,167.83 L530.34,165.44 L532.15,163.08 L533.97,160.74 L535.78,158.43 L537.59,156.15 L539.41,153.89 L541.22,151.66 L543.04,149.46 L544.85,147.29 L546.66,145.15 L548.48,143.04 L550.29,140.95 L552.10,138.90 L553.92,136.87 L555.73,134.87 L557.55,132.91 L559.36,130.97 L561.17,129.06 L562.99,127.17 L564.80,125.32 L566.62,123.49 L568.43,121.70 L570.24,119.92 L572.06,118.18 L573.87,116.46 L575.68,114.77 L577.50,113.10 L579.31,111.46 L581.13,109.85 L582.94,108.26 L584.75,106.70 L586.57,105.16 L588.38,103.64 L590.19,102.15 L592.01,100.68 L593.82,99.24 L595.64,97.82 L597.45,96.42 L599.26,95.05 L601.08,93.69 L602.89,92.36 L604.70,91.05 L606.52,89.77 L608.33,88.50 L610.15,87.26 L611.96,86.03 L613.77,84.83 L615.59,83.64 L617.40,82.48 L619.21,81.34 L621.03,80.21 L622.84,79.11 L624.66,78.02 L626.47,76.95 L628.28,75.90 L630.10,74.87 L631.91,73.85 L633.73,72.86 L635.54,71.88 L637.35,70.91 L639.17,69.97 L640.98,69.04 L642.79,68.12 L644.61,67.23 L646.42,66.35 L648.24,65.48 L650.05,64.63 L651.86,63.80 L653.68,62.98 L655.49,62.17 L657.30,61.39 L659.12,60.61 L660.93,59.85 L662.75,59.11 L664.56,58.38 L666.37,57.66 L668.19,56.96 L670.00,56.27 L671.81,55.59 L673.63,54.93 L675.44,54.28 L677.26,53.65 L679.07,53.02 L680.88,52.41 L682.70,51.81 L684.51,51.23 L686.32,50.65 L688.14,50.09 L689.95,49.54 L691.77,49.00 L693.58,48.47 L695.39,47.96 L697.21,47.45 L699.02,46.96 L700.84,46.47 L702.65,46.00 L704.46,45.53 L706.28,45.08 L708.09,44.64 L709.90,44.20 L711.72,43.78 L713.53,43.36 L715.35,42.96 L717.16,42.56 L718.97,42.17 L720.79,41.79 L722.60,41.42 L724.41,41.05 L726.23,40.70 L728.04,40.35 L729.86,40.01 L731.67,39.68 L733.48,39.35 L735.30,39.04 L737.11,38.73 L738.92,38.42 L740.74,38.13 L742.55,37.84 L744.37,37.56 L746.18,37.28 L747.99,37.01 L749.81,36.75 L751.62,36.49 L753.43,36.24 L755.25,35.99 L757.06,35.76 L758.88,35.52 L760.69,35.30 L762.50,35.07 L764.32,34.86 L766.13,34.65 L767.95,34.44 L769.76,34.24 L771.57,34.04 L773.39,33.85 L775.20,33.66 L777.01,33.48 L778.83,33.30 L780.64,33.13 L782.46,32.96 L784.27,32.80 L786.08,32.64 L787.90,32.48 L789.71,32.32 L791.52,32.17 L793.34,32.03 L795.15,31.88 L796.97,31.74 L798.78,31.61 L800.59,31.47 L802.41,31.34 L804.22,31.21 L806.03,31.09 L807.85,30.96 L809.66,30.84 L811.48,30.72 L813.29,30.60 L815.10,30.49 L816.92,30.38 L818.73,30.27 L820.54,30.16 L822.36,30.05 L824.17,29.94 L825.99,29.84 L827.80,29.73" stroke="#000" stroke-width="2.4" fill="none" stroke-dasharray="9.6 5.7" stroke-dashoffset="4.85"/>
<path d="M434.4,209 L458.6,295" stroke="#000" stroke-width="2.1" stroke-dasharray="8.5 6.5" fill="none"/>
<path d="M450.2,296.6 L459,297.5 L467.1,291.9 L468.1,324.7 Z" fill="#000"/>
<path d="M506.8,314.9 H610.8" stroke="#000" stroke-width="2.3"/>
<path d="M510.9,360.1 H611.3" stroke="#000" stroke-width="2.4" stroke-dasharray="10.1 5"/>
<g fill="#000">
<text transform="translate(139.10,41.60) scale(1.0,1.07)" font-family="Liberation Serif" font-size="29px" font-style="italic">β</text>
<text transform="translate(163.15,45.20) scale(1.17,1.07)" font-family="Liberation Serif" font-size="29px" font-style="normal">=</text>
<text transform="translate(191.50,41.60) scale(1.0,1.07)" font-family="Liberation Serif" font-size="29px" font-style="normal">10</text>
<text transform="translate(220.70,41.60) scale(1.0,1.07)" font-family="Liberation Serif" font-size="29px" font-style="normal">,</text>
<text transform="translate(235.95,41.60) scale(1.0,1.07)" font-family="Liberation Serif" font-size="29px" font-style="italic">ϕ</text>
<text transform="translate(260.35,45.20) scale(1.17,1.07)" font-family="Liberation Serif" font-size="29px" font-style="normal">=</text>
<text transform="translate(288.10,41.60) scale(1.0,1.07)" font-family="Liberation Serif" font-size="29px" font-style="normal">0.02</text>
<text transform="translate(340.00,41.60) scale(1.0,1.07)" font-family="Liberation Serif" font-size="29px" font-style="normal">,</text>
<text transform="translate(356.65,41.60) scale(1.0,1.07)" font-family="Liberation Serif" font-size="29px" font-style="italic">λ</text>
<text transform="translate(378.85,45.20) scale(1.17,1.07)" font-family="Liberation Serif" font-size="29px" font-style="normal">=</text>
<text transform="translate(406.60,41.60) scale(1.0,1.07)" font-family="Liberation Serif" font-size="29px" font-style="normal">0.2</text>
<text transform="translate(442.90,41.60) scale(1.0,1.07)" font-family="Liberation Serif" font-size="29px" font-style="normal">,</text>
<text transform="translate(458.50,41.60) scale(1.0,1.07)" font-family="Liberation Serif" font-size="29px" font-style="normal">ϵ</text>
<text transform="translate(483.85,45.20) scale(1.17,1.07)" font-family="Liberation Serif" font-size="29px" font-style="normal">=</text>
<text transform="translate(511.60,41.60) scale(1.0,1.07)" font-family="Liberation Serif" font-size="29px" font-style="normal">0.01</text>
<text transform="translate(562.80,41.60) scale(1.0,1.07)" font-family="Liberation Serif" font-size="29px" font-style="normal">,</text>
<text transform="translate(578.00,41.60) scale(1.0,1.07)" font-family="Liberation Serif" font-size="29px" font-style="italic">γ</text>
<text transform="translate(602.35,45.20) scale(1.17,1.07)" font-family="Liberation Serif" font-size="29px" font-style="normal">=</text>
<text transform="translate(630.10,41.60) scale(1.0,1.07)" font-family="Liberation Serif" font-size="29px" font-style="normal">0.1.</text>
<text transform="translate(249.40,81.40) scale(1.0,1.07)" font-family="Liberation Serif" font-size="36px" font-style="normal">Pr</text>
<text transform="translate(289.27,84.70) scale(1.1,1.07)" font-family="Liberation Serif" font-size="36px" font-style="normal">=</text>
<text transform="translate(319.70,81.40) scale(1.0,1.07)" font-family="Liberation Serif" font-size="36px" font-style="normal">6.7,</text>
<text transform="translate(384.20,81.40) scale(1.0,1.07)" font-family="Liberation Serif" font-size="36px" font-style="normal">8.7,</text>
<text transform="translate(447.55,81.40) scale(1.0,1.07)" font-family="Liberation Serif" font-size="36px" font-style="normal">9.7.</text>
<text transform="translate(617.25,322.00) scale(1.0,1.07)" font-family="Liberation Serif" font-size="30px" font-style="normal">Cu</text>
<text transform="translate(671.75,322.00) scale(1.0,1.07)" font-family="Liberation Serif" font-size="30px" font-style="normal">A</text>
<text transform="translate(690.00,322.00) scale(1.0,1.07)" font-family="Liberation Serif" font-size="30px" font-style="italic">l</text>
<text transform="translate(712.60,322.00) scale(1.0,1.07)" font-family="Liberation Serif" font-size="30px" font-style="italic">O</text>
<text transform="translate(763.80,322.00) scale(1.0,1.07)" font-family="Liberation Serif" font-size="30px" font-style="normal">water</text>
<rect x="653.7" y="313.7" width="15.6" height="1.6"/><rect x="747.3" y="313.7" width="15" height="1.6"/><rect x="653.3" y="355.6" width="15.8" height="1.6"/>
<text transform="translate(700.30,326.90) scale(1.0,1.07)" font-family="Liberation Serif" font-size="21px" font-style="normal">2</text>
<text transform="translate(733.80,326.90) scale(1.0,1.07)" font-family="Liberation Serif" font-size="21px" font-style="normal">3</text>
<text transform="translate(617.25,364.00) scale(1.0,1.07)" font-family="Liberation Serif" font-size="30px" font-style="normal">Cu</text>
<text transform="translate(671.60,364.00) scale(1.0,1.07)" font-family="Liberation Serif" font-size="30px" font-style="normal">water</text>
<text transform="translate(455.3,578.6) scale(1.1,1.04)" font-size="36px" font-style="italic">η</text>
</g>
<g fill="#666"><text transform="translate(26.80,274.71) rotate(-90) scale(1.306,1.185)" font-family="Liberation Sans" font-size="19px" font-style="normal">2</text><text transform="translate(21.30,251.29) rotate(-90) scale(0.966,0.938)" font-family="Liberation Sans" font-size="28px" font-style="normal">(</text><text transform="translate(21.73,236.60) rotate(-90) scale(1.193,1.108)" font-family="Liberation Sans" font-size="28px" font-style="italic">η</text><text transform="translate(21.30,212.38) rotate(-90) scale(0.717,0.938)" font-family="Liberation Sans" font-size="28px" font-style="normal">)</text></g>
<g transform="translate(11.65,285.45) rotate(-90) skewX(-12)" stroke="#333" stroke-width="1.35" fill="none"><ellipse cx="0" cy="0" rx="9.3" ry="9.9"/><path d="M-9.3,-0.8 H9.3"/></g>
</svg>
</body></html>
